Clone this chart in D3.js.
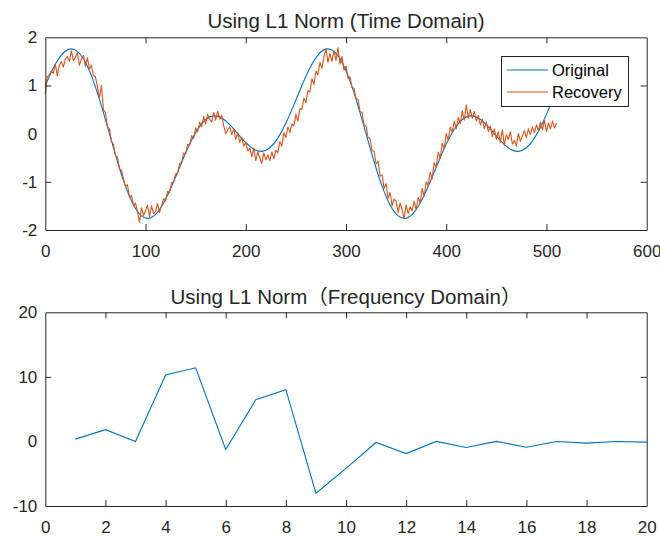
<!DOCTYPE html>
<html>
<head>
<meta charset="utf-8">
<script src="https://cdn.jsdelivr.net/npm/d3@7"></script>
<style>
  html, body { margin: 0; padding: 0; background: #fff; }
  svg { display: block; font-family: "Liberation Sans", Arial, "Noto Sans CJK SC", sans-serif; }
  .axis path, .axis line { stroke: #262626; }
  .axis text { fill: #262626; font-size: 17px; }
</style>
</head>
<body>
<svg id="chart" width="660" height="536"></svg>
<script>
// ---- Time-domain signal: original (sampled every 8 points) ----
const originalStep = 8;
const originalValues = [
  1.000, 1.363, 1.631, 1.755, 1.707, 1.480, 1.090, 0.578,
  0.000, -0.578, -1.090, -1.480, -1.707, -1.755, -1.631, -1.363,
  -1.000, -0.598, -0.217, 0.092, 0.293, 0.368, 0.324, 0.188,
  0.000, -0.188, -0.324, -0.368, -0.293, -0.092, 0.217, 0.598,
  1.000, 1.363, 1.631, 1.755, 1.707, 1.480, 1.090, 0.578,
  0.000, -0.578, -1.090, -1.480, -1.707, -1.755, -1.631, -1.363,
  -1.000, -0.598, -0.217, 0.092, 0.293, 0.368, 0.324, 0.188,
  0.000, -0.188, -0.324, -0.368, -0.293, -0.092, 0.217, 0.598,
  1.000
];

// ---- Time-domain signal: L1 recovery (sampled every 2 points) ----
const recoveryStep = 2;
const recoveryValues = [
  0.82, 1.18, 1.22, 1.30,    1.25, 1.45, 1.20, 1.42,
  1.50, 1.38, 1.55, 1.60,    1.50, 1.72, 1.52, 1.58,
  1.68, 1.42, 1.55, 1.62,    1.40, 1.58, 1.34, 1.42,
  1.20, 1.18, 0.98, 0.74,    1.00, 0.50, 0.44, 0.14,
  0.10, -0.16, -0.22, -0.46,   -0.48, -0.74, -0.76, -0.95,
  -1.10, -1.06, -1.32, -1.28,  -1.50, -1.44, -1.62, -1.84,
  -1.54, -1.70, -1.60, -1.48,  -1.72, -1.50, -1.66, -1.62,
  -1.45, -1.64, -1.50, -1.35,  -1.40, -1.20, -1.22, -1.02,
  -1.00, -0.84, -0.82, -0.62,  -0.60, -0.40, -0.42, -0.22,
  -0.24, -0.04, -0.10, 0.12,   0.04, 0.24, 0.14, 0.36,
  0.20, 0.40, 0.30, 0.24,      0.44, 0.28, 0.46, 0.30,
  0.38, 0.16, 0.00, 0.08,      0.14, -0.02, 0.10, -0.12,
  0.02, -0.18, -0.08, -0.26,   -0.18, -0.36, -0.30, -0.48,
  -0.30, -0.56, -0.38, -0.50,  -0.62, -0.40, -0.54, -0.44,
  -0.56, -0.38, -0.52, -0.34,  -0.40, -0.16, -0.26, 0.02,
  -0.08, 0.14, 0.02, 0.20,     0.16, 0.40, 0.26, 0.52,
  0.50, 0.74, 0.64, 0.90,      0.86, 1.14, 1.02, 1.30,
  1.22, 1.48, 1.36, 1.60,      1.76, 1.48, 1.66, 1.50,
  1.72, 1.52, 1.78, 1.44,      1.60, 1.32, 1.40, 1.14,
  1.18, 0.96, 0.94, 0.72,      0.72, 0.46, 0.44, 0.18,
  0.16, -0.08, -0.10, -0.36,   -0.36, -0.62, -0.58, -0.88,
  -0.86, -1.14, -1.04, -1.34,  -1.22, -1.50, -1.36, -1.40,
  -1.64, -1.44, -1.58, -1.76,  -1.48, -1.66, -1.52, -1.60,
  -1.40, -1.58, -1.32, -1.44,  -1.14, -1.30, -1.00, -1.08,
  -0.80, -0.94, -0.60, -0.70,  -0.38, -0.52, -0.20, -0.32,
  0.00, -0.14, 0.14, 0.02,     0.26, 0.10, 0.34, 0.20,
  0.48, 0.28, 0.60, 0.32,      0.50, 0.32, 0.46, 0.26,
  0.38, 0.18, 0.30, 0.10,      0.24, 0.04, 0.16, -0.06,
  0.10, -0.12, 0.04, -0.18,    0.08, -0.24, -0.02, -0.12,
  0.04, -0.22, -0.14, -0.26,   0.00, -0.16, -0.04, 0.06,
  -0.08, 0.10, -0.02, 0.14,    0.02, 0.18, 0.06, 0.24,
  0.08, 0.28, 0.04, 0.22,      0.10, 0.26, 0.12, 0.22
];

// ---- Frequency-domain coefficients ----
const freqIndex = [1, 2, 3, 4, 5, 6, 7, 8, 9, 10, 11, 12, 13, 14, 15, 16, 17, 18, 19, 20];
const freqValues = [0.36, 1.82, 0.0, 10.3, 11.4, -1.25, 6.46, 8.02, -8.02, -4.17,
                    -0.16, -1.88, 0.0, -0.94, 0.0, -0.89, 0.0, -0.26, 0.0, -0.1];

// ---- Axis ticks ----
const timeXTicks = [0, 100, 200, 300, 400, 500, 600];
const timeYTicks = [-2, -1, 0, 1, 2];
const freqXTicks = [0, 2, 4, 6, 8, 10, 12, 14, 16, 18, 20];
const freqYTicks = [-10, 0, 10, 20];

const titles = ["Using L1 Norm (Time Domain)", "Using L1 Norm\uFF08Frequency Domain\uFF09"];
const legendLabels = ["Original", "Recovery"];
const colors = { blue: "#0072BD", red: "#D95319", ink: "#262626" };

const svg = d3.select("#chart");
svg.append("rect").attr("width", 660).attr("height", 536).attr("fill", "#fff");

const plotLeft = 45.3, plotRight = 646.7;
const plainNumber = d => String(d);

function drawBox(g, x, y, xTicks, yTicks, top, bottom) {
  const tick = 6;
  g.append("g").attr("class", "axis")
    .attr("transform", `translate(0,${bottom})`)
    .call(d3.axisBottom(x).tickValues(xTicks).tickSize(-tick).tickSizeOuter(0)
      .tickPadding(15).tickFormat(plainNumber));
  g.append("g").attr("class", "axis")
    .attr("transform", `translate(0,${top})`)
    .call(d3.axisTop(x).tickValues(xTicks).tickSize(-tick).tickSizeOuter(0).tickFormat(""));
  g.append("g").attr("class", "axis")
    .attr("transform", `translate(${plotLeft},0)`)
    .call(d3.axisLeft(y).tickValues(yTicks).tickSize(-tick).tickSizeOuter(0)
      .tickPadding(8).tickFormat(plainNumber));
  g.append("g").attr("class", "axis")
    .attr("transform", `translate(${plotRight},0)`)
    .call(d3.axisRight(y).tickValues(yTicks).tickSize(-tick).tickSizeOuter(0).tickFormat(""));
  // ticks that fall on the box corners are not drawn
  g.selectAll(".axis .tick line").filter(function (d) {
    return d === x.domain()[0] || d === x.domain()[1] || d === y.domain()[0] || d === y.domain()[1];
  }).attr("stroke-opacity", 0);
}

// ================= Top panel: time domain =================
const topTop = 37.3, topBottom = 230;
const xTime = d3.scaleLinear().domain([0, 600]).range([plotLeft, plotRight]);
const yTime = d3.scaleLinear().domain([-2, 2]).range([topBottom, topTop]);

const gTop = svg.append("g");

const originalPts = originalValues.map((v, i) => [i * originalStep, v]);
const recoveryPts = recoveryValues.map((v, i) => [i * recoveryStep, v]);

gTop.append("path")
  .datum(originalPts)
  .attr("fill", "none")
  .attr("stroke", colors.blue)
  .attr("stroke-width", 1.1)
  .attr("d", d3.line().x(d => xTime(d[0])).y(d => yTime(d[1])).curve(d3.curveNatural));

gTop.append("path")
  .datum(recoveryPts)
  .attr("fill", "none")
  .attr("stroke", colors.red)
  .attr("stroke-width", 1.1)
  .attr("stroke-linejoin", "round")
  .attr("d", d3.line().x(d => xTime(d[0])).y(d => yTime(d[1])));

drawBox(gTop, xTime, yTime, timeXTicks, timeYTicks, topTop, topBottom);

gTop.append("text")
  .attr("x", (plotLeft + plotRight) / 2).attr("y", 27.5)
  .attr("text-anchor", "middle").attr("font-size", 20.5).attr("fill", colors.ink)
  .text(titles[0]);

// legend
const leg = gTop.append("g");
leg.append("rect")
  .attr("x", 501.5).attr("y", 56.5).attr("width", 127).attr("height", 50)
  .attr("fill", "#fff").attr("stroke", colors.ink).attr("stroke-width", 1);
[[colors.blue, 70], [colors.red, 92]].forEach(([c, yy], i) => {
  leg.append("line").attr("x1", 506.7).attr("x2", 548).attr("y1", yy).attr("y2", yy)
    .attr("stroke", c).attr("stroke-width", 1.1);
  leg.append("text").attr("x", 552).attr("y", yy + 6)
    .attr("font-size", 16.5).attr("fill", "#000").text(legendLabels[i]);
});

// ================= Bottom panel: frequency domain =================
const botTop = 312.3, botBottom = 506;
const xFreq = d3.scaleLinear().domain([0, 20]).range([plotLeft, plotRight]);
const yFreq = d3.scaleLinear().domain([-10, 20]).range([botBottom, botTop]);

const gBot = svg.append("g");

gBot.append("path")
  .datum(freqIndex.map((k, i) => [k, freqValues[i]]))
  .attr("fill", "none")
  .attr("stroke", colors.blue)
  .attr("stroke-width", 1.1)
  .attr("d", d3.line().x(d => xFreq(d[0])).y(d => yFreq(d[1])));

drawBox(gBot, xFreq, yFreq, freqXTicks, freqYTicks, botTop, botBottom);

gBot.append("text")
  .attr("x", (plotLeft + plotRight) / 2).attr("y", 303.5)
  .attr("text-anchor", "middle").attr("font-size", 20.5).attr("fill", colors.ink)
  .text(titles[1]);
</script>
</body>
</html>
